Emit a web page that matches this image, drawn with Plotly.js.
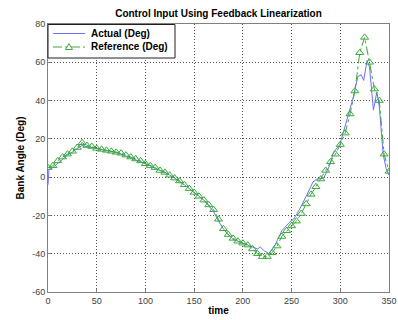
<!DOCTYPE html>
<html>
<head>
<meta charset="utf-8">
<script src="https://cdn.plot.ly/plotly-3.0.1.min.js"></script>
<style>html,body{margin:0;padding:0;background:#fff;}#chart{width:398px;height:320px;}</style>
</head>
<body>
<div id="chart"></div>
<script>
// Reference series (sampled every 5 time units)
const refTime = [0,5,10,15,20,25,30,35,40,45,50,55,60,65,70,75,80,85,90,95,100,105,110,115,120,125,130,135,140,145,150,155,160,165,170,175,180,185,190,195,200,205,210,215,220,225,230,235,240,245,250,255,260,265,270,275,280,285,290,295,300,305,310,315,320,325,330,335,340,345,350];
const refAngle = [5,6,8.5,10.5,12,13.5,15.5,18,16.5,16,15,14.5,14,13.5,13,12.5,11.5,10.5,9.5,8.5,7,6,5,3.5,2.5,1,-0.5,-2,-4,-6,-8,-10,-12,-14.5,-17,-22,-27,-30,-32,-33.5,-34.5,-35.5,-37.5,-40,-41.5,-41.5,-39.5,-36,-31,-28,-25.5,-23,-19,-14,-9,-5,-1,3.5,8,12,17,23,33,45,65,73,60,46,40,12,3];

// Actual series
const actTime = [0,1,5,10,15,20,25,30,35,40,45,50,55,60,65,70,75,80,85,90,95,100,105,110,115,120,125,130,135,140,145,150,155,160,165,170,175,180,185,190,195,200,205,210,215,218,222,227,233,240,248,252,258,265,272,276,283,289,293,299.5,306,313,318,321.5,324,327.5,330,334,337.5,340,344,347,350];
const actAngle = [-4,4,5,7,9.5,11.5,13,15,16.5,16,15.5,15,14.5,14,13.5,13,12,11,10,9,8,7,6,4.5,3.5,2.5,1,-0.5,-2.5,-4,-6,-8,-10,-12,-15,-18,-23,-27,-30,-32.5,-33.5,-34.5,-35.5,-36.5,-37.5,-36.5,-38.5,-40,-35.5,-28,-23.5,-22,-17,-10,-2.5,-1,-0.5,6,13,17,29,41,52.5,53.5,50.5,61,57.5,35,44.5,37,12,4.5,1];

const xTicks = [0,50,100,150,200,250,300,350];
const yTicks = [-60,-40,-20,0,20,40,60,80];
const legendLabels = ['Actual (Deg)', 'Reference (Deg)'];

const FONT = '"Liberation Sans", Arial, sans-serif';
const BLUE = '#6f6fff';
const GREEN = '#3aaa3a';

// plot area in pixels: left 48, top 24, width 341, height 268
const PL = 48, PT = 24, PW = 341, PH = 268;
const px = v => (v - PL) / PW;
const py = v => 1 - (v - PT) / PH;

const traces = [
  {
    x: actTime, y: actAngle, type: 'scatter', mode: 'lines',
    name: legendLabels[0],
    line: {color: BLUE, width: 1}
  },
  {
    x: refTime, y: refAngle, type: 'scatter', mode: 'lines+markers',
    name: legendLabels[1],
    line: {color: GREEN, width: 1, dash: 'dashdot'},
    marker: {symbol: 'triangle-up-open', size: 7, color: GREEN, line: {width: 1, color: GREEN}}
  }
];

const axisCommon = {
  showline: true, linecolor: '#808080', linewidth: 1, mirror: true,
  showgrid: true, gridcolor: '#555555', gridwidth: 1, griddash: '1px,2px',
  zeroline: false, ticks: 'inside', ticklen: 3, tickcolor: '#808080',
  tickfont: {family: FONT, size: 9, color: '#404040'}
};

// hand-built legend box (matches the compact MATLAB legend)
const tri = (cx, cy) => `M${px(cx)},${py(cy-3.5)} L${px(cx-3.5)},${py(cy+2.5)} L${px(cx+3.5)},${py(cy+2.5)} Z`;
const shapes = [
  {type: 'rect', xref: 'paper', yref: 'paper', x0: px(48), x1: px(175), y0: py(58), y1: py(24.5),
   fillcolor: '#ffffff', line: {color: '#202020', width: 1}, layer: 'above'},
  {type: 'line', xref: 'paper', yref: 'paper', x0: px(53), x1: px(85), y0: py(33.5), y1: py(33.5),
   line: {color: BLUE, width: 1}, layer: 'above'},
  {type: 'line', xref: 'paper', yref: 'paper', x0: px(53), x1: px(85), y0: py(47), y1: py(47),
   line: {color: GREEN, width: 1, dash: 'dashdot'}, layer: 'above'},
  {type: 'path', xref: 'paper', yref: 'paper', path: tri(69, 47),
   fillcolor: '#ffffff', line: {color: GREEN, width: 1}, layer: 'above'}
];
const annotations = [
  {xref: 'paper', yref: 'paper', x: px(89), y: py(33.5), xanchor: 'left', yanchor: 'middle', showarrow: false,
   text: '<b>' + legendLabels[0] + '</b>', font: {family: FONT, size: 10, color: '#000'}},
  {xref: 'paper', yref: 'paper', x: px(89), y: py(47), xanchor: 'left', yanchor: 'middle', showarrow: false,
   text: '<b>' + legendLabels[1] + '</b>', font: {family: FONT, size: 10, color: '#000'}}
];

const layout = {
  width: 398, height: 320,
  margin: {l: 48, r: 9, t: 24, b: 28},
  paper_bgcolor: '#ffffff', plot_bgcolor: '#ffffff',
  title: {text: '<b>Control Input Using Feedback Linearization</b>', x: 0.5, xref: 'paper', xanchor: 'center', y: 0.958, yanchor: 'middle', font: {family: FONT, size: 10, color: '#000'}},
  xaxis: Object.assign({}, axisCommon, {
    range: [0, 350], tickvals: xTicks, ticktext: xTicks.map(String),
    title: {text: '<b>time</b>', font: {family: FONT, size: 10, color: '#000'}, standoff: 2}
  }),
  yaxis: Object.assign({}, axisCommon, {
    range: [-60, 80], tickvals: yTicks, ticktext: yTicks.map(String),
    title: {text: '<b>Bank Angle (Deg)</b>', font: {family: FONT, size: 10, color: '#000'}, standoff: 5}
  }),
  showlegend: false,
  shapes: shapes,
  annotations: annotations
};

Plotly.newPlot('chart', traces, layout, {staticPlot: true, displayModeBar: false});
</script>
</body>
</html>
